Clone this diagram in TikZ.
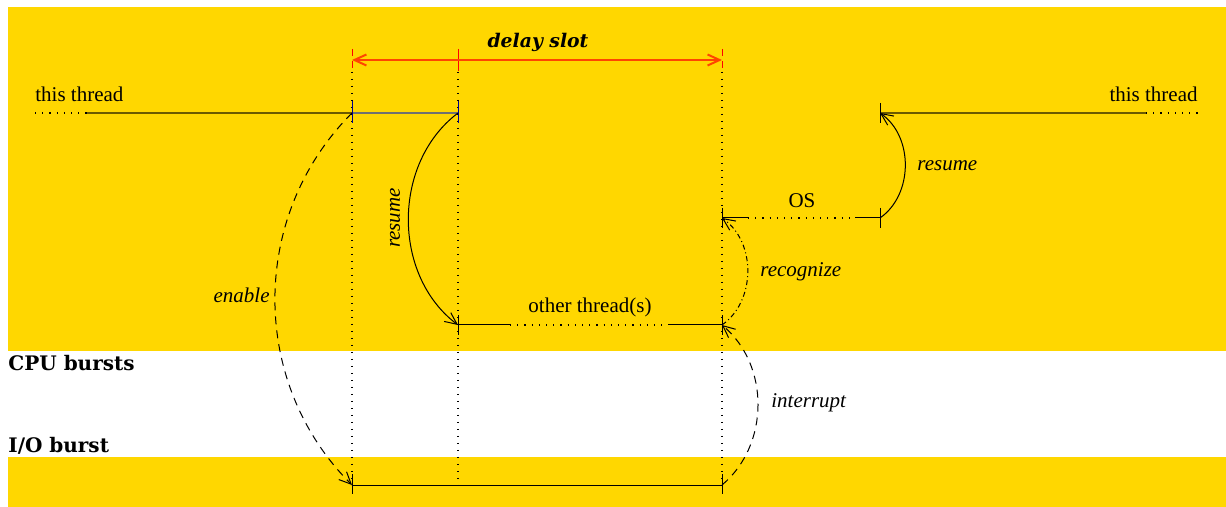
\documentclass[tikz,border=0pt]{standalone}
\usepackage{fontspec}
\setmainfont{Liberation Serif}
\newfontfamily\labfont{DejaVu Serif}
\usetikzlibrary{arrows.meta}
\definecolor{bandyellow}{HTML}{FFD700}
\definecolor{threadolive}{HTML}{6B5A00}
\definecolor{slotgray}{HTML}{707070}
\definecolor{tickblue}{HTML}{00008B}
\definecolor{slotred}{HTML}{FF4500}
\tikzset{
  thin line/.style={line width=0.5pt},
  thread/.style={line width=1.1pt, threadolive},
  dots/.style={line width=0.6pt, dash pattern=on 0.6pt off 3pt},
  guide/.style={line width=0.6pt, dash pattern=on 0.6pt off 2.9pt},
  tick/.style={line width=0.5pt},
  barb/.style={-{Straight Barb[length=6pt,width=5.5pt]}},
  lbl/.style={font=\fontsize{10.5}{12}\selectfont, inner sep=0pt},
  ilbl/.style={font=\fontsize{10.5}{12}\selectfont\itshape, inner sep=0pt},
  blbl/.style={font=\labfont\fontsize{10}{12}\selectfont\bfseries, inner sep=0pt},
}
\begin{document}
\begin{tikzpicture}[x=0.5pt,y=0.5pt]
\useasboundingbox (0,0) rectangle (1226,-507);
\fill[white] (0,0) rectangle (1226,-507);
\fill[bandyellow] (8,-7) rectangle (1226,-351);
\fill[bandyellow] (8,-457) rectangle (1226,-507);

% event points
\coordinate (A) at (352,-113);
\coordinate (B) at (458,-113);
\coordinate (C) at (458,-325);
\coordinate (D) at (722,-325);
\coordinate (E) at (722,-218);
\coordinate (F) at (880,-218);
\coordinate (G) at (880,-113);
\coordinate (H) at (352,-485);
\coordinate (I) at (722,-485);
\coordinate (S1) at (352,-60);
\coordinate (S2) at (458,-60);
\coordinate (S3) at (722,-60);
\coordinate (L0) at (35,-113);
\coordinate (L1) at (87,-113);
\coordinate (R1) at (1146,-113);
\coordinate (R0) at (1198,-113);

% vertical guides
\draw[guide] (352,-72) -- (H);
\draw[guide] (458,-72) -- (458,-485);
\draw[guide] (722,-72) -- (I);

% delay slot
\draw[line width=0.5pt, red, dash pattern=on 3.5pt off 2.5pt] (352,-49) -- (352,-72);
\draw[line width=0.5pt, red] (458,-49) -- (458,-71);
\draw[line width=0.5pt, red, dash pattern=on 3.5pt off 2.5pt] (722,-49) -- (722,-72);
\draw[line width=1pt, slotred, {Straight Barb[length=6pt,width=5.5pt]}-{Straight Barb[length=6pt,width=5.5pt]}] (S1) -- (S3);
\node[blbl, font=\labfont\fontsize{9.4}{11}\selectfont\bfseries\itshape, anchor=base] (ds) at (538,-48) {delay slot};

% this thread (left)
\draw[dots] (L0) -- (L1);
\draw[thread] (L1) -- (A);
\draw[line width=1.1pt, slotgray] (A) -- (B);
\draw[tick, tickblue] (352,-101) -- (352,-123);
\draw[tick, tickblue] (458,-101) -- (458,-123);
\node[lbl, anchor=base west] (tl) at (35,-102) {this thread};

% this thread (right)
\draw[thread] (G) -- (R1);
\draw[dots] (R1) -- (R0);
\draw[tick] (880,-103) -- (880,-123);
\node[lbl, anchor=base east] (tr) at (1198,-102) {this thread};

% other thread(s)
\draw[thin line] (C) -- (510,-325);
\draw[dots] (510,-325) -- (668,-325);
\draw[thin line] (668,-325) -- (D);
\draw[tick] (458,-315) -- (458,-335);
\draw[tick] (722,-315) -- (722,-335);
\node[lbl, anchor=base] (ot) at (590,-313) {other thread(s)};

% OS
\draw[thin line] (E) -- (748,-218);
\draw[dots] (748,-218) -- (855,-218);
\draw[thin line] (855,-218) -- (F);
\draw[tick] (722,-208) -- (722,-228);
\draw[tick] (880,-208) -- (880,-228);
\node[lbl, anchor=base] (os) at (802,-208) {OS};

% I/O burst
\draw[thin line] (H) -- (I);
\draw[tick] (352,-474) -- (352,-494);
\draw[tick] (722,-474) -- (722,-494);

% arcs
\draw[thin line, barb, dash pattern=on 4pt off 3pt] (A) to[bend right=45] (H);
\draw[thin line, barb] (B) to[bend right=53] (C);
\draw[thin line, barb, dash pattern=on 4pt off 3pt] (I) to[bend right=50] (D);
\draw[thin line, barb, dash pattern=on 2.5pt off 1.5pt on 0.5pt off 1.5pt] (D) to[bend right=55] (E);
\draw[thin line, barb] (F) to[bend right=55] (G);

% arc labels
\node[ilbl, anchor=base east] (en) at (270,-303) {enable};
\node[ilbl, rotate=90, anchor=center] (rs1) at (395,-218) {resume};
\node[ilbl, anchor=base west] (rs2) at (917,-171) {resume};
\node[ilbl, anchor=base west] (rc) at (760,-277) {recognize};
\node[ilbl, anchor=base west] (ir) at (771,-408) {interrupt};

% band labels
\node[blbl, anchor=base west] (cpu) at (8,-371) {CPU bursts};
\node[blbl, anchor=base west] (io) at (8,-452) {I/O burst};
\end{tikzpicture}
\end{document}
